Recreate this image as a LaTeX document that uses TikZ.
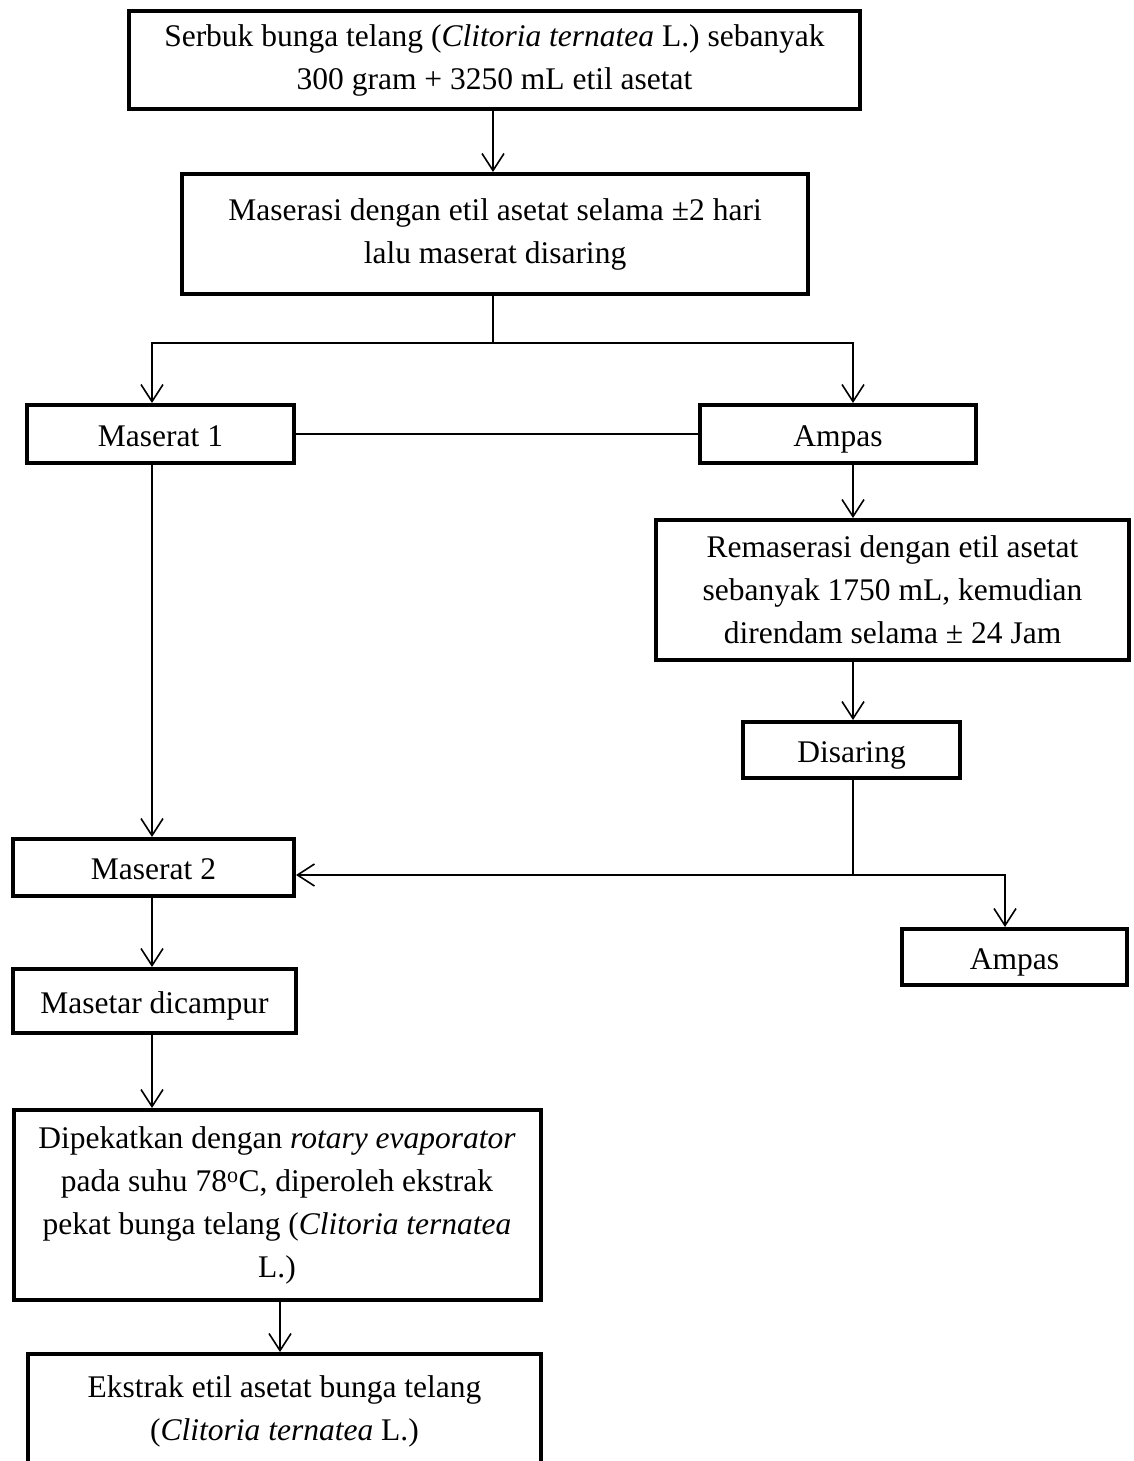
\documentclass[tikz,border=0pt]{standalone}
\usepackage{fontspec}
\setmainfont{Liberation Serif}
\usetikzlibrary{arrows.meta}
\begin{document}
\begin{tikzpicture}[x=1pt,y=-1pt,
  box/.style={draw, line width=4pt, inner sep=0pt, align=center,
    font=\fontsize{31.5}{43}\selectfont},
  single/.style={box, text height=24pt, text depth=0pt},
  conn/.style={line width=1.6pt},
  arr/.style={conn, -{Straight Barb[length=17pt,width=22pt]}}]
\clip (0,0) rectangle (1134,1461);
\node[box, minimum width=731, minimum height=98] (b1) at (494.5,60)
  {Serbuk bunga telang (\textit{Clitoria ternatea} L.) sebanyak\\300 gram + 3250 mL etil asetat};
\node[box, minimum width=626, minimum height=120] (b2) at (495,234)
  {Maserasi dengan etil asetat selama ±2 hari\\lalu maserat disaring};
\node[single, minimum width=267, minimum height=58] (m1) at (160.5,434) {Maserat 1};
\node[single, minimum width=276, minimum height=58] (am1) at (838,434) {Ampas};
\node[box, minimum width=473, minimum height=140] (rem) at (892.5,590)
  {Remaserasi dengan etil asetat\\sebanyak 1750 mL, kemudian\\direndam selama ± 24 Jam};
\node[single, minimum width=217, minimum height=56] (dis) at (851.5,750) {Disaring};
\node[single, minimum width=281, minimum height=57] (m2) at (153.5,867.5) {Maserat 2};
\node[single, minimum width=225, minimum height=56] (am2) at (1014.5,957) {Ampas};
\node[single, minimum width=283, minimum height=64] (mc) at (154.5,1001) {Masetar dicampur};
\node[box, minimum width=527, minimum height=190] (dip) at (277,1205)
  {Dipekatkan dengan \textit{rotary evaporator}\\pada suhu 78\textsuperscript{o}C, diperoleh ekstrak\\pekat bunga telang (\textit{Clitoria ternatea}\\L.)};
\node[box, minimum width=513, minimum height=114] (ek) at (284.5,1411)
  {Ekstrak etil asetat bunga telang\\(\textit{Clitoria ternatea} L.)};
\coordinate (xl) at (152,0);
\coordinate (xr) at (853,0);
\coordinate (xa) at (1005,0);
\coordinate (xd) at (280,0);
\coordinate (split) at (493,343);
\coordinate (j) at (853,875);
\draw[arr] (b1.south -| split) -- (b2.north -| split);
\draw[conn] (b2.south -| split) -- (split);
\draw[arr] (split) -| (xl |- m1.north);
\draw[arr] (split) -| (xr |- am1.north);
\draw[conn] (m1.east) -- (am1.west);
\draw[arr] (xr |- am1.south) -- (xr |- rem.north);
\draw[arr] (xr |- rem.south) -- (xr |- dis.north);
\draw[arr] (xl |- m1.south) -- (xl |- m2.north);
\draw[conn] (xr |- dis.south) -- (j);
\draw[arr] (j) -- (j -| m2.east);
\draw[arr] (j) -| (xa |- am2.north);
\draw[arr] (xl |- m2.south) -- (xl |- mc.north);
\draw[arr] (xl |- mc.south) -- (xl |- dip.north);
\draw[arr] (xd |- dip.south) -- (xd |- ek.north);
\end{tikzpicture}
\end{document}
